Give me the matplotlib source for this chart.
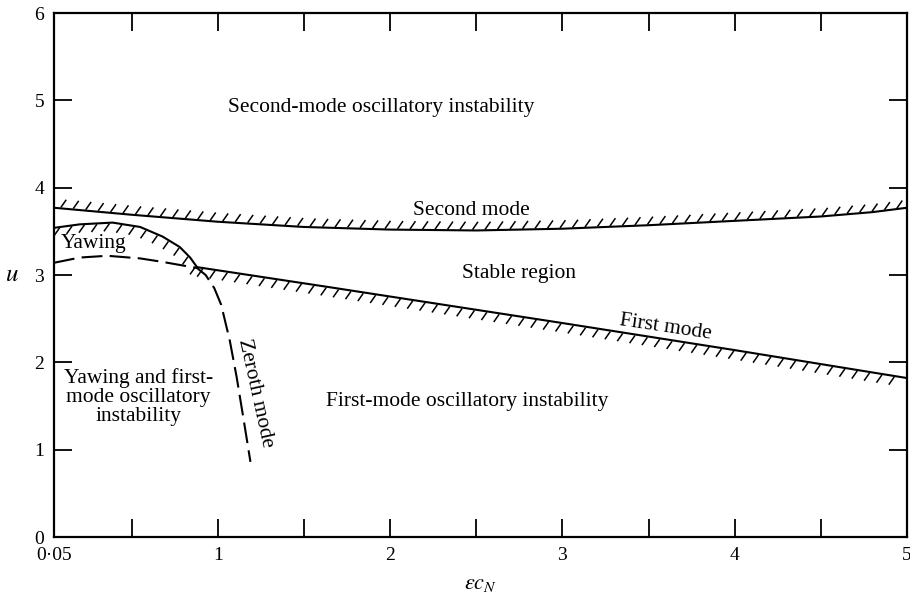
import numpy as np
import matplotlib
matplotlib.use("Agg")
import matplotlib.pyplot as plt
from matplotlib.collections import LineCollection

plt.rcParams['font.family'] = ['Liberation Serif', 'DejaVu Serif']
plt.rcParams['mathtext.fontset'] = 'stix'

# stability boundaries (eps*c_N, u)
second_x = [0.05, 0.5, 1.0, 1.5, 2.0, 2.5, 3.0, 3.5, 4.0, 4.5, 4.8, 5.0]
second_u = [3.77, 3.69, 3.61, 3.55, 3.52, 3.51, 3.53, 3.57, 3.62, 3.67, 3.72, 3.77]

yaw_x = [0.05, 0.2, 0.39, 0.55, 0.68, 0.78, 0.84, 0.88]
yaw_u = [3.54, 3.58, 3.60, 3.55, 3.44, 3.32, 3.20, 3.09]

first_x = [0.88, 1.65, 3.0, 4.0, 5.0]
first_u = [3.09, 2.86, 2.45, 2.14, 1.82]

zeroth_x = [0.05, 0.2, 0.36, 0.55, 0.68, 0.88, 0.93, 0.98, 1.02, 1.07, 1.11, 1.15, 1.19]
zeroth_u = [3.14, 3.20, 3.22, 3.19, 3.15, 3.08, 3.00, 2.85, 2.66, 2.25, 1.83, 1.35, 0.86]

xticks = [0.05, 1, 2, 3, 4, 5]
xticklabels = ['0\u00b705', '1', '2', '3', '4', '5']
xminor = [0.5, 1.5, 2.5, 3.5, 4.5]
yticks = [0, 1, 2, 3, 4, 5, 6]

fig = plt.figure(figsize=(9.1, 5.98), dpi=100)
ax = fig.add_axes([54 / 910, 1 - 537 / 598, 853 / 910, 524 / 598])
ax.set_xlim(0.05, 5)
ax.set_ylim(0, 6)


def hatch(xs, ys, side, spacing=12.5, length=9.5, angle=55, gap=1.0):
    # short slanted strokes along a curve, laid out in pixel space
    pts = ax.transData.transform(np.column_stack([xs, ys]))
    d = np.hypot(*np.diff(pts, axis=0).T)
    s = np.concatenate([[0], np.cumsum(d)])
    at = np.arange(spacing / 2, s[-1], spacing)
    p = np.column_stack([np.interp(at, s, pts[:, 0]), np.interp(at, s, pts[:, 1])])
    a = np.radians(angle)
    v = side * np.array([np.cos(a), np.sin(a)])
    inv = ax.transData.inverted()
    p0 = inv.transform(p + v * gap)
    p1 = inv.transform(p + v * (gap + length))
    segs = np.stack([p0, p1], axis=1)
    ax.add_collection(LineCollection(segs, colors='black', linewidths=1.1))


ax.plot(second_x, second_u, color='black', lw=1.5)
ax.plot(yaw_x, yaw_u, color='black', lw=1.5)
ax.plot(first_x, first_u, color='black', lw=1.5)
ax.plot(zeroth_x, zeroth_u, color='black', lw=1.5, dashes=(10, 3.5))

hatch(second_x, second_u, +1)
hatch(yaw_x, yaw_u, -1)
hatch(first_x, first_u, -1)

fs = 15.5
ax.text(1.95, 4.92, 'Second-mode oscillatory instability', ha='center', va='center', fontsize=fs)
ax.text(2.47, 3.74, 'Second mode', ha='center', va='center', fontsize=fs)
ax.text(2.75, 3.02, 'Stable region', ha='center', va='center', fontsize=fs)
ax.text(3.6, 2.4, 'First mode', ha='center', va='center', fontsize=fs, rotation=-8.5)
ax.text(0.28, 3.36, 'Yawing', ha='center', va='center', fontsize=fs)
ax.text(0.54, 1.6, 'Yawing and first-\nmode oscillatory\ninstability', ha='center', va='center',
        fontsize=fs, linespacing=1.0)
ax.text(1.22, 1.65, 'Zeroth mode', ha='center', va='center', fontsize=fs, rotation=-77.5)
ax.text(2.45, 1.55, 'First-mode oscillatory instability', ha='center', va='center', fontsize=fs)

ax.set_xticks(xticks)
ax.set_xticklabels(xticklabels)
ax.set_xticks(xminor, minor=True)
ax.set_yticks(yticks)
ax.tick_params(which='both', direction='in', top=True, right=True, length=13, width=1.3,
               labelsize=14, pad=7)
for sp in ax.spines.values():
    sp.set_linewidth(1.6)

ax.set_xlabel(r'$\epsilon c_N$', fontsize=16, labelpad=8)
ax.set_ylabel(r'$u$', fontsize=18, rotation=0, labelpad=16, va='center')

fig.savefig('out.png', dpi=100)
